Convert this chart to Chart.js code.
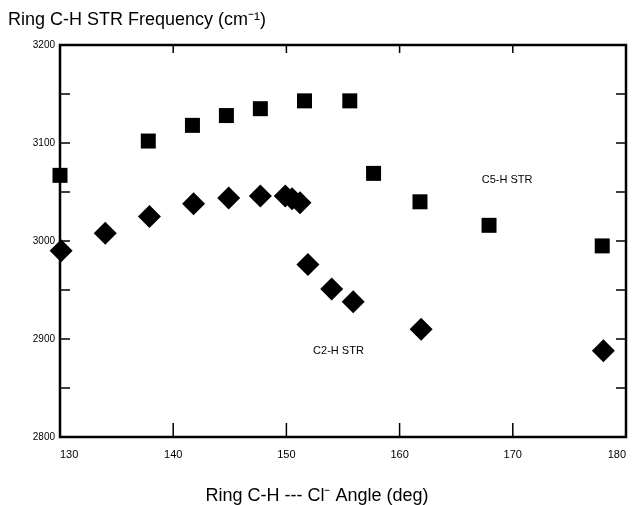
<!DOCTYPE html>
<html>
<head>
<meta charset="utf-8">
<script src="https://cdn.jsdelivr.net/npm/chart.js@4"></script>
<style>
  body { margin: 0; background: #fff; }
  #wrap { width: 634px; height: 505px; }
</style>
</head>
<body>
<div id="wrap"><canvas id="ringChart"></canvas></div>
<script>
// C5-H stretch (squares)
const angleC5 = [130.0, 137.8, 141.7, 144.7, 147.7, 151.6, 155.6, 157.7, 161.8, 167.9, 177.9];
const freqC5 = [3067, 3102, 3118, 3128, 3135, 3143, 3143, 3069, 3040, 3016, 2995];
// C2-H stretch (diamonds)
const angleC2 = [130.1, 134.0, 137.9, 141.8, 144.9, 147.7, 149.9, 150.5, 151.2, 151.9, 154.0, 155.9, 161.9, 178.0];
const freqC2 = [2990, 3008, 3025, 3038, 3044, 3046, 3046, 3043, 3039, 2976, 2951, 2938, 2910, 2888];
// series labels, placed in data units
const seriesNames = ['C5-H STR', 'C2-H STR'];
const nameAngle = [169.5, 154.6];
const nameFreq = [3062, 2888];

const toPoints = (xs, ys) => xs.map((x, i) => ({ x, y: ys[i] }));

// box frame, inward ticks and series labels
const framePlugin = {
  id: 'frame',
  afterDraw(chart) {
    const { ctx, chartArea: a, scales } = chart;
    ctx.save();
    ctx.strokeStyle = '#000';
    ctx.lineWidth = 1.5;
    scales.y.ticks.forEach(t => {
      const py = scales.y.getPixelForValue(t.value);
      ctx.beginPath();
      ctx.moveTo(a.left, py); ctx.lineTo(a.left + 10, py);
      ctx.moveTo(a.right, py); ctx.lineTo(a.right - 10, py);
      ctx.stroke();
    });
    scales.x.ticks.forEach(t => {
      const px = scales.x.getPixelForValue(t.value);
      ctx.beginPath();
      ctx.moveTo(px, a.bottom); ctx.lineTo(px, a.bottom - 14);
      ctx.moveTo(px, a.top); ctx.lineTo(px, a.top + 8);
      ctx.stroke();
    });
    ctx.lineWidth = 2.5;
    ctx.strokeRect(a.left, a.top, a.right - a.left, a.bottom - a.top);

    ctx.fillStyle = '#000';
    ctx.font = '11px "Liberation Sans", Arial, sans-serif';
    ctx.textAlign = 'center';
    ctx.textBaseline = 'middle';
    seriesNames.forEach((name, i) => {
      ctx.fillText(name, scales.x.getPixelForValue(nameAngle[i]), scales.y.getPixelForValue(nameFreq[i]));
    });
    ctx.restore();
  }
};

const font = '"Liberation Sans", Arial, sans-serif';

new Chart(document.getElementById('ringChart'), {
  type: 'scatter',
  data: {
    datasets: [
      {
        label: 'C5-H STR',
        data: toPoints(angleC5, freqC5),
        pointStyle: 'rect',
        pointRadius: 10.6,
        backgroundColor: '#000',
        borderWidth: 0,
        clip: false
      },
      {
        label: 'C2-H STR',
        data: toPoints(angleC2, freqC2),
        pointStyle: 'rectRot',
        pointRadius: 11.5,
        backgroundColor: '#000',
        borderWidth: 0,
        clip: false
      }
    ]
  },
  options: {
    responsive: true,
    maintainAspectRatio: false,
    animation: false,
    layout: { autoPadding: false, padding: { left: 8, right: 8, top: 0, bottom: 0 } },
    plugins: {
      legend: { display: false },
      tooltip: { enabled: false },
      title: {
        display: true,
        text: 'Ring C-H STR Frequency (cm\u207B\u00B9)',
        align: 'start',
        color: '#000',
        font: { family: font, size: 18, weight: 'normal', lineHeight: 1.2 },
        padding: { top: 9, bottom: 14.4 }
      },
      subtitle: {
        display: true,
        position: 'bottom',
        text: 'Ring C-H --- Cl\u207B Angle (deg)',
        color: '#000',
        font: { family: font, size: 18, weight: 'normal', lineHeight: 1 },
        padding: { top: 0, bottom: 0 }
      }
    },
    scales: {
      x: {
        type: 'linear',
        min: 130,
        max: 180,
        afterFit: s => { s.height = 50; s.paddingLeft = 0; s.paddingRight = 0; },
        grid: { display: false, drawTicks: false },
        border: { display: false },
        ticks: {
          stepSize: 10,
          padding: 11,
          align: 'inner',
          color: '#000',
          font: { family: font, size: 11 }
        }
      },
      y: {
        min: 2800,
        max: 3200,
        afterFit: s => { s.width = 52; s.paddingTop = 0; s.paddingBottom = 0; },
        grid: { display: false, drawTicks: false },
        border: { display: false },
        ticks: {
          stepSize: 50,
          padding: 5,
          color: '#000',
          font: { family: font, size: 10 },
          callback: v => (v % 100 === 0 ? v : '')
        }
      }
    }
  },
  plugins: [framePlugin]
});
</script>
</body>
</html>
